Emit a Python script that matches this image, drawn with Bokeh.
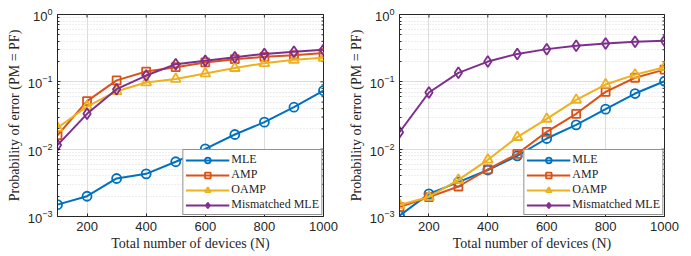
import math
from bokeh.plotting import figure
from bokeh.layouts import row
from bokeh.models import FixedTicker, Legend, LegendItem, Range1d
from bokeh.embed import file_html
from bokeh.resources import INLINE

N = [100, 200, 300, 400, 500, 600, 700, 800, 900, 1000]

# Left panel
left_mle = [1.5e-3, 2.0e-3, 3.67e-3, 4.3e-3, 6.5e-3, 1.01e-2, 1.65e-2, 2.52e-2, 4.2e-2, 7.4e-2]
left_amp = [1.61e-2, 5.16e-2, 0.105, 0.142, 0.165, 0.194, 0.217, 0.235, 0.249, 0.267]
left_oamp = [2.07e-2, 4.3e-2, 7.26e-2, 9.8e-2, 0.11, 0.133, 0.16, 0.189, 0.212, 0.227]
left_mis = [1.15e-2, 3.35e-2, 7.78e-2, 0.124, 0.183, 0.205, 0.232, 0.26, 0.279, 0.299]

# Right panel
right_mle = [1.03e-3, 2.17e-3, 3.24e-3, 4.9e-3, 7.96e-3, 1.44e-2, 2.3e-2, 3.93e-2, 6.7e-2, 0.102]
right_amp = [1.38e-3, 1.94e-3, 2.79e-3, 5.0e-3, 8.5e-3, 1.81e-2, 3.35e-2, 7.1e-2, 0.115, 0.152]
right_oamp = [1.48e-3, 1.95e-3, 3.5e-3, 6.95e-3, 1.51e-2, 2.82e-2, 5.4e-2, 9.12e-2, 0.128, 0.165]
right_mis = [1.79e-2, 6.95e-2, 0.136, 0.2, 0.26, 0.306, 0.343, 0.371, 0.393, 0.406]

series_names = ["MLE", "AMP", "OAMP", "Mismatched MLE"]
x_ticks = [200, 400, 600, 800, 1000]
y_ticks = [1e-3, 1e-2, 1e-1, 1e0]
y_minor = [m * d for d in [1e-3, 1e-2, 1e-1] for m in range(2, 10)]

colors = ["#0072BD", "#D95319", "#EDB120", "#7E2F8E"]
markers = ["circle", "square", "triangle", "diamond"]
msizes = [9, 8, 10, 11]

AX = "#262626"
SERIF = "Liberation Serif"
SANS = "Liberation Sans"


def style_axis(ax):
    ax.axis_line_color = AX
    ax.major_tick_line_color = AX
    ax.minor_tick_line_color = AX
    ax.major_tick_in = 3
    ax.major_tick_out = 0
    ax.minor_tick_in = 2
    ax.minor_tick_out = 0
    ax.major_label_text_font = SANS
    ax.major_label_text_font_size = "13px"
    ax.major_label_text_color = AX
    ax.axis_label_text_font = SERIF
    ax.axis_label_text_font_size = "14px"
    ax.axis_label_text_font_style = "normal"
    ax.axis_label_text_color = AX


def make_panel(width, bl, br, data):
    p = figure(width=width, height=256, y_axis_type="log",
               x_range=Range1d(100, 1000), y_range=Range1d(1e-3, 1),
               output_backend="svg", toolbar_location=None,
               min_border_left=bl, min_border_right=br,
               min_border_top=14, min_border_bottom=40,
               background_fill_color="white", border_fill_color="white")
    p.outline_line_color = AX
    p.outline_line_width = 1

    p.xaxis.ticker = FixedTicker(ticks=x_ticks)
    p.yaxis.ticker = FixedTicker(ticks=y_ticks, minor_ticks=y_minor)
    p.xaxis.axis_label = "Total number of devices (N)"
    p.yaxis.axis_label = "Probability of error (PM = PF)"
    for ax in p.xaxis:
        style_axis(ax)
        ax.minor_tick_in = 0
        ax.major_label_standoff = 5
        ax.axis_label_standoff = 2
    for ax in p.yaxis:
        style_axis(ax)
        ax.major_label_standoff = 5
        ax.axis_label_standoff = 3

    # inward ticks on the top and right edges of the box
    p.scatter(x_ticks, [y_ticks[-1]] * len(x_ticks), marker="dash", angle=math.pi / 2,
              size=6, line_color=AX, line_width=1)
    p.scatter([N[-1]] * len(y_ticks), y_ticks, marker="dash", size=6,
              line_color=AX, line_width=1)
    p.scatter([N[-1]] * len(y_minor), y_minor, marker="dash", size=4,
              line_color=AX, line_width=1)

    p.xgrid.grid_line_color = "#dcdcdc"
    p.ygrid.grid_line_color = "#dcdcdc"
    p.ygrid.minor_grid_line_color = "#dcdcdc"
    p.ygrid.minor_grid_line_dash = "1 2"

    items = []
    for name, ys, c, m, s in zip(series_names, data, colors, markers, msizes):
        r1 = p.line(N, ys, line_color=c, line_width=2)
        r2 = p.scatter(N, ys, marker=m, size=s, line_color=c, line_width=1.8,
                       fill_color=None)
        items.append(LegendItem(label=name, renderers=[r1, r2]))

    leg = Legend(items=items, location="bottom_right")
    leg.label_text_font = SERIF
    leg.label_text_font_size = "12px"
    leg.label_text_color = AX
    leg.glyph_width = 44
    leg.glyph_height = 14
    leg.label_height = 14
    leg.label_width = 87
    leg.label_standoff = 2
    leg.padding = 2
    leg.spacing = 0
    leg.margin = 1
    leg.border_line_color = AX
    leg.border_line_width = 1
    leg.background_fill_color = "white"
    leg.background_fill_alpha = 1
    p.add_layout(leg, "center")
    return p


p1 = make_panel(345, 57, 22, [left_mle, left_amp, left_oamp, left_mis])
p2 = make_panel(346, 54, 27, [right_mle, right_amp, right_oamp, right_mis])

layout = row(p1, p2)
open("out.html", "w").write(file_html(layout, INLINE))
